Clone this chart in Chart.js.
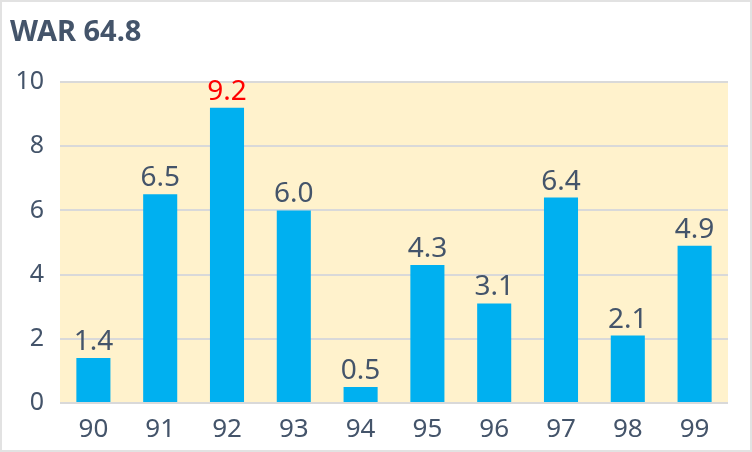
<!DOCTYPE html>
<html>
<head>
<meta charset="utf-8">
<script src="https://cdn.jsdelivr.net/npm/chart.js@4"></script>
<style>
  html, body { margin: 0; padding: 0; background: #fff; }
  #frame {
    width: 752px; height: 452px; box-sizing: border-box;
    border: 2px solid #e2e2e2; background: #fff; position: relative;
  }
  #frame canvas { position: absolute; left: 0; top: 0; }
</style>
</head>
<body>
<div id="frame"><canvas id="warChart" width="748" height="448"></canvas></div>
<script>
const title = "WAR 64.8";
const seasons = ["90", "91", "92", "93", "94", "95", "96", "97", "98", "99"];
const war = [1.4, 6.5, 9.2, 6.0, 0.5, 4.3, 3.1, 6.4, 2.1, 4.9];
const yTicks = [0, 2, 4, 6, 8, 10];

const textColor = "#44546a";
const fontFamily = "'Noto Sans', 'DejaVu Sans', sans-serif";

/* plot area fill */
const plotBackground = {
  id: "plotBackground",
  beforeDraw(chart) {
    const { ctx, chartArea: a } = chart;
    ctx.save();
    ctx.fillStyle = "#fff2cc";
    ctx.fillRect(a.left, a.top, a.right - a.left, a.bottom - a.top);
    ctx.restore();
  }
};

/* title, top-left */
const titleText = {
  id: "titleText",
  afterDraw(chart) {
    const ctx = chart.ctx;
    ctx.save();
    ctx.font = "bold 29px " + fontFamily;
    ctx.fillStyle = textColor;
    ctx.textAlign = "left";
    ctx.textBaseline = "middle";
    ctx.fillText(title, 8, 31);
    ctx.restore();
  }
};

/* value labels above bars, max in red */
const valueLabels = {
  id: "valueLabels",
  afterDatasetsDraw(chart) {
    const ctx = chart.ctx;
    const meta = chart.getDatasetMeta(0);
    const data = chart.data.datasets[0].data;
    const max = Math.max(...data);
    ctx.save();
    ctx.font = "28px " + fontFamily;
    ctx.textAlign = "center";
    ctx.textBaseline = "bottom";
    meta.data.forEach((bar, i) => {
      ctx.fillStyle = data[i] === max ? "#ff0000" : textColor;
      ctx.fillText(data[i].toFixed(1), bar.x, bar.y - 2);
    });
    ctx.restore();
  }
};

new Chart(document.getElementById("warChart"), {
  type: "bar",
  data: {
    labels: seasons,
    datasets: [{
      data: war,
      backgroundColor: "#00b0f0",
      categoryPercentage: 1,
      barPercentage: 0.51
    }]
  },
  options: {
    responsive: false,
    animation: false,
    layout: { padding: { top: 80, right: 22, left: 0, bottom: 0 } },
    plugins: {
      legend: { display: false },
      tooltip: { enabled: false }
    },
    scales: {
      x: {
        grid: { display: false },
        border: { display: false },
        ticks: {
          color: textColor,
          font: { family: fontFamily, size: 26 },
          padding: 3
        },
        afterFit(scale) { scale.height = 47; }
      },
      y: {
        min: 0,
        max: 10,
        afterBuildTicks(scale) { scale.ticks = yTicks.map(v => ({ value: v })); },
        grid: { color: "#d9d9d9", lineWidth: 2, drawTicks: false },
        border: { display: false },
        ticks: {
          color: textColor,
          font: { family: fontFamily, size: 25 },
          padding: 16
        },
        afterFit(scale) { scale.width = 58; }
      }
    }
  },
  plugins: [plotBackground, titleText, valueLabels]
});
</script>
</body>
</html>
